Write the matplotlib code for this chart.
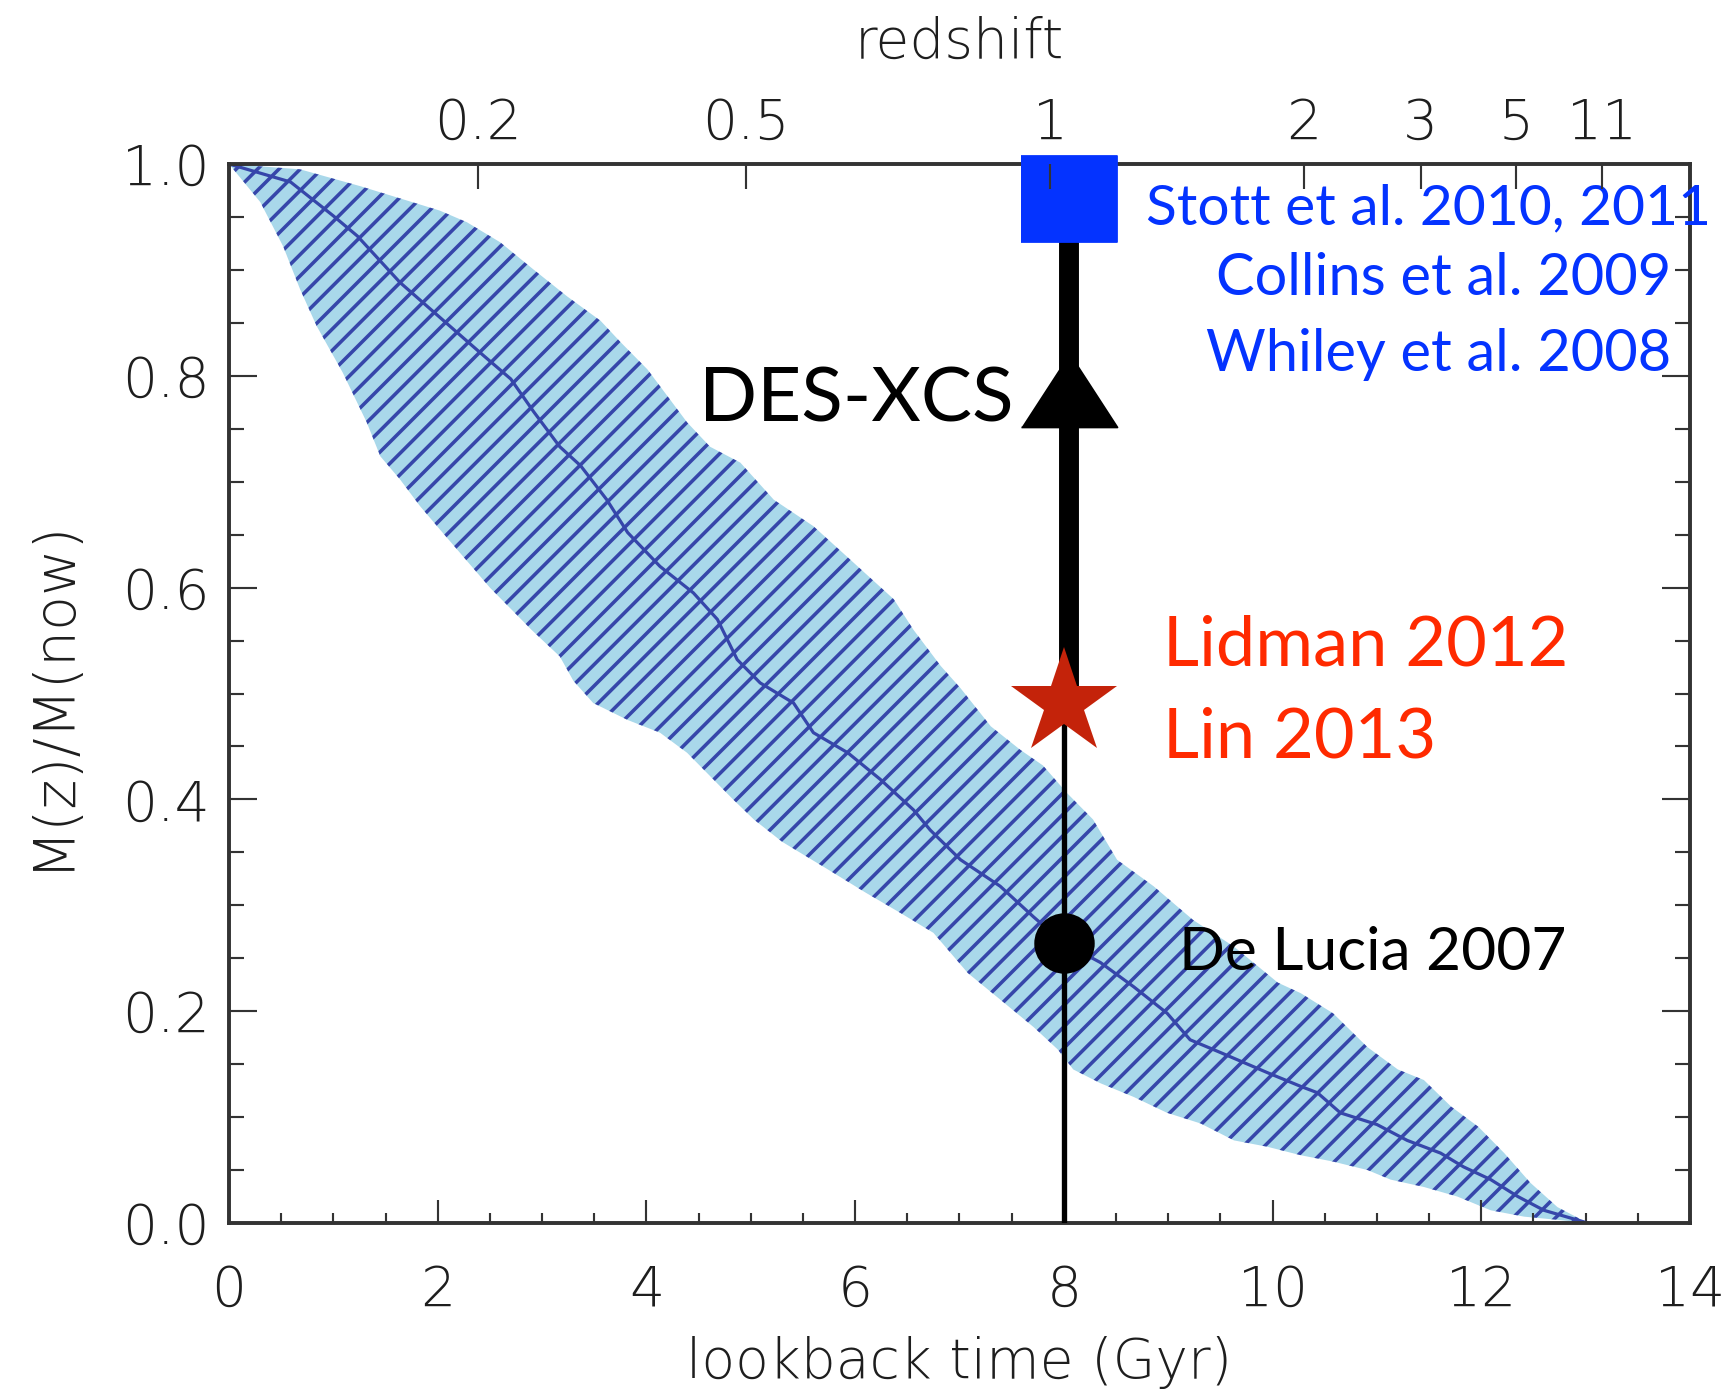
import matplotlib

matplotlib.use("Agg")
import matplotlib.pyplot as plt
from matplotlib.ticker import MultipleLocator

# band edges and median: lookback time (Gyr) vs M(z)/M(now)
t_upper = [0.0, 0.68, 1.26, 2.02, 2.28, 2.60, 2.91, 3.24, 3.56, 3.75, 4.01, 4.39, 4.61, 4.90,
           5.22, 5.60, 5.98, 6.37, 6.56, 6.82, 7.01, 7.30, 7.58, 7.80, 8.03, 8.28, 8.51, 8.86,
           9.24, 9.63, 10.05, 10.27, 10.58, 10.91, 11.20, 11.45, 11.71, 11.97, 12.22, 12.47,
           12.73, 13.02]
m_upper = [1.0, 0.995, 0.979, 0.956, 0.945, 0.926, 0.901, 0.875, 0.852, 0.832, 0.806, 0.756,
           0.733, 0.718, 0.683, 0.658, 0.624, 0.589, 0.560, 0.526, 0.505, 0.469, 0.447, 0.432,
           0.406, 0.381, 0.343, 0.318, 0.286, 0.261, 0.227, 0.217, 0.198, 0.166, 0.145, 0.135,
           0.110, 0.091, 0.066, 0.038, 0.015, 0.0]

t_lower = [0.0, 0.30, 0.52, 0.68, 0.84, 1.09, 1.32, 1.45, 1.64, 1.83, 2.02, 2.50, 2.90, 3.17,
           3.30, 3.49, 3.82, 4.13, 4.39, 4.61, 4.83, 5.03, 5.30, 5.72, 6.10, 6.43, 6.75, 7.08,
           7.39, 7.71, 7.94, 8.09, 8.35, 8.67, 8.99, 9.31, 9.63, 9.95, 10.27, 10.58, 10.91,
           11.13, 11.45, 11.77, 12.09, 12.41, 12.73, 13.02]
m_lower = [1.0, 0.964, 0.922, 0.882, 0.847, 0.803, 0.756, 0.724, 0.702, 0.677, 0.655, 0.600,
           0.560, 0.535, 0.512, 0.491, 0.475, 0.463, 0.444, 0.422, 0.400, 0.381, 0.360, 0.335,
           0.312, 0.293, 0.274, 0.236, 0.211, 0.185, 0.164, 0.145, 0.132, 0.119, 0.104, 0.094,
           0.078, 0.072, 0.064, 0.058, 0.050, 0.041, 0.034, 0.025, 0.012, 0.006, 0.003, 0.0]

t_median = [0.0, 0.59, 1.0, 1.23, 1.64, 2.15, 2.44, 2.70, 2.92, 3.17, 3.37, 3.62, 3.82, 4.13,
            4.45, 4.68, 4.87, 5.09, 5.41, 5.60, 5.93, 6.24, 6.56, 6.72, 7.01, 7.39, 7.71, 7.99,
            8.35, 8.67, 8.99, 9.21, 9.50, 9.95, 10.27, 10.43, 10.65, 11.0, 11.29, 11.61, 11.83,
            12.09, 12.35, 12.60, 13.02]
m_median = [1.0, 0.983, 0.951, 0.932, 0.888, 0.844, 0.819, 0.797, 0.766, 0.733, 0.715, 0.683,
            0.652, 0.620, 0.595, 0.570, 0.532, 0.510, 0.491, 0.463, 0.444, 0.419, 0.390, 0.371,
            0.343, 0.318, 0.289, 0.265, 0.246, 0.223, 0.198, 0.173, 0.161, 0.142, 0.129, 0.123,
            0.104, 0.093, 0.078, 0.066, 0.053, 0.041, 0.025, 0.012, 0.0]

# top axis: redshift labels at their lookback times
z_labels = ["0.2", "0.5", "1", "2", "3", "5", "11"]
z_lookback = [2.39, 4.95, 7.87, 10.30, 11.42, 12.33, 13.16]

# observational points at z ~ 1
obs_t = 8.0
bar_t = 8.05
square_m = 0.967
triangle_m = 0.787
star_m = 0.491
circle_m = 0.264

DPI = 128
BAND = "#a9d8ea"
HATCH = "#3646aa"
AXCOL = "#333333"
TXTCOL = "#1e1e1e"
BLUE = "#0433ff"
RED = "#ff2a00"
ANNOT_FONT = ["Lato", "DejaVu Sans"]
TICK_FONT = {"family": "DejaVu Sans", "weight": "light"}

plt.rcParams["font.family"] = ["DejaVu Sans"]
plt.rcParams["hatch.linewidth"] = 2.0

fig = plt.figure(figsize=(1724 / DPI, 1391 / DPI), dpi=DPI)
ax = fig.add_axes([229 / 1724, 1 - 1223 / 1391, (1690 - 229) / 1724, (1223 - 164) / 1391])

# shaded, hatched band
ax.fill(t_upper + t_lower[::-1], m_upper + m_lower[::-1],
        facecolor=BAND, edgecolor=HATCH, hatch="//", linewidth=0, zorder=1)
ax.plot(t_median, m_median, color=HATCH, linewidth=1.8, zorder=2)

# vertical measurement bar
ax.vlines(obs_t, 0, star_m, color="black", linewidth=3.0, zorder=3)
ax.vlines(bar_t, star_m, square_m, color="black", linewidth=11.2, zorder=3)

rect = [(-1, -0.9), (1, -0.9), (1, 0.9), (-1, 0.9)]
tri = [(-1, -0.77), (1, -0.77), (0, 0.77)]
ax.plot(bar_t, square_m, marker=rect, markersize=54, color=BLUE, linestyle="none",
        zorder=5, clip_on=False)
ax.plot(bar_t, triangle_m, marker=tri, markersize=54, color="black", linestyle="none",
        zorder=5, clip_on=False)
ax.plot(obs_t, star_m, marker="*", markersize=63, color="#c4230a", markeredgewidth=0,
        linestyle="none", zorder=5)
ax.plot(obs_t, circle_m, marker="o", markersize=34, color="black", markeredgewidth=0,
        linestyle="none", zorder=5)

# annotations
ax.text(7.52, 0.757, "DES-XCS", fontsize=43, family=ANNOT_FONT, ha="right", va="baseline",
        color="black", zorder=6)
ax.text(14.2, 0.943, "Stott et al. 2010, 2011", fontsize=32, family=ANNOT_FONT, ha="right",
        va="baseline", color=BLUE, zorder=6, clip_on=False)
ax.text(13.82, 0.876, "Collins et al. 2009", fontsize=32.5, family=ANNOT_FONT, ha="right",
        va="baseline", color=BLUE, zorder=6)
ax.text(13.82, 0.805, "Whiley et al. 2008", fontsize=32.5, family=ANNOT_FONT, ha="right",
        va="baseline", color=BLUE, zorder=6)
ax.text(8.95, 0.526, "Lidman 2012", fontsize=39.5, family=ANNOT_FONT, ha="left",
        va="baseline", color=RED, zorder=6)
ax.text(8.95, 0.440, "Lin 2013", fontsize=39.5, family=ANNOT_FONT, ha="left",
        va="baseline", color=RED, zorder=6)
ax.text(9.1, 0.239, "De Lucia 2007", fontsize=34, family=ANNOT_FONT, ha="left",
        va="baseline", color="black", zorder=6)

# axes styling
ax.set_xlim(0, 14)
ax.set_ylim(0, 1.0)
ax.xaxis.set_major_locator(MultipleLocator(2))
ax.xaxis.set_minor_locator(MultipleLocator(0.5))
ax.yaxis.set_major_locator(MultipleLocator(0.2))
ax.yaxis.set_minor_locator(MultipleLocator(0.05))
ax.set_yticklabels([f"{v:.1f}" for v in ax.get_yticks()])
ax.tick_params(axis="x", which="both", direction="in", top=False, color=AXCOL,
               labelcolor=TXTCOL, labelsize=31, width=1.2, pad=23)
ax.tick_params(axis="x", which="major", length=13)
ax.tick_params(axis="x", which="minor", length=5.6)
ax.tick_params(axis="y", which="both", direction="in", left=True, right=True, color=AXCOL,
               labelcolor=TXTCOL, labelsize=31, width=1.2, pad=11)
ax.tick_params(axis="y", which="major", length=16)
ax.tick_params(axis="y", which="minor", length=8.4)
for sp in ax.spines.values():
    sp.set_linewidth(2.2)
    sp.set_color(AXCOL)
ax.set_xlabel("lookback time (Gyr)", fontsize=31, color=TXTCOL, labelpad=10, **TICK_FONT)
ax.set_ylabel("M(z)/M(now)", fontsize=32, color=TXTCOL, labelpad=24, **TICK_FONT)

top = ax.twiny()
top.set_xlim(0, 14)
top.set_xticks(z_lookback)
top.set_xticklabels(z_labels)
top.tick_params(axis="x", direction="in", length=14, width=1.2, color=AXCOL,
                labelcolor=TXTCOL, labelsize=31, pad=7.5)
for sp in top.spines.values():
    sp.set_visible(False)
top.set_xlabel("redshift", fontsize=31, color=TXTCOL, labelpad=22, **TICK_FONT)

for lab in ax.get_xticklabels() + ax.get_yticklabels() + top.get_xticklabels():
    lab.set_fontweight("light")

fig.savefig("out.png", dpi=DPI)
